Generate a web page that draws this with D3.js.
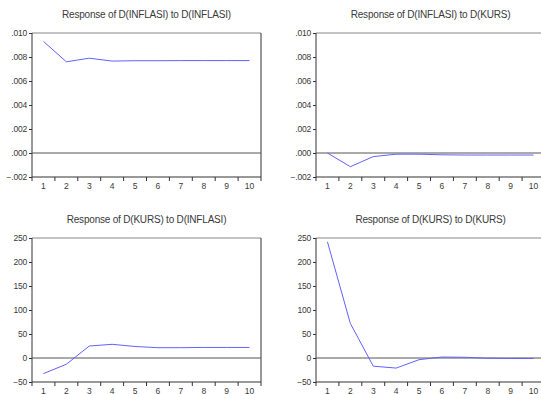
<!DOCTYPE html>
<html>
<head>
<meta charset="utf-8">
<script src="https://cdn.jsdelivr.net/npm/d3@7"></script>
<style>
  body { margin: 0; background: #fff; }
  svg { display: block; }
  text { font-family: "Liberation Sans", Arial, sans-serif; fill: #3a3a3a; }
</style>
</head>
<body>
<svg id="chart" width="541" height="394"></svg>
<script>
// periods on the x axis
const periods = [1, 2, 3, 4, 5, 6, 7, 8, 9, 10];

// impulse responses
const inflasiToInflasi = [0.0093, 0.0076, 0.0079, 0.00766, 0.00769, 0.00769, 0.0077, 0.0077, 0.0077, 0.0077];
const inflasiToKurs = [0.0, -0.00114, -0.0003, -0.0001, -0.0001, -0.00015, -0.00017, -0.00017, -0.00017, -0.00017];
const kursToInflasi = [-32.5, -13, 25, 28.5, 24, 21.5, 21.5, 22, 22, 22];
const kursToKurs = [242, 72, -17, -21, -3.5, 2, 1.5, -0.5, -1, -1];

const titles = [
  "Response of D(INFLASI) to D(INFLASI)",
  "Response of D(INFLASI) to D(KURS)",
  "Response of D(KURS) to D(INFLASI)",
  "Response of D(KURS) to D(KURS)"
];
const inflTicks = [-0.002, 0, 0.002, 0.004, 0.006, 0.008, 0.010];
const kursTicks = [-50, 0, 50, 100, 150, 200, 250];

const inflFmt = d => d3.format(".3f")(d).replace("0.", ".");
const panels = [
  {title: titles[0], values: inflasiToInflasi, ticks: inflTicks, fmt: inflFmt, x: 32, y: 33},
  {title: titles[1], values: inflasiToKurs, ticks: inflTicks, fmt: inflFmt, x: 316, y: 33},
  {title: titles[2], values: kursToInflasi, ticks: kursTicks, fmt: d3.format("d"), x: 32, y: 238},
  {title: titles[3], values: kursToKurs, ticks: kursTicks, fmt: d3.format("d"), x: 316, y: 238}
];

const w = 229, h = 144;
const svg = d3.select("#chart");

panels.forEach(function(p) {
  let g = svg.append("g").attr("transform", `translate(${p.x},${p.y})`);

  let scaleX = d3.scaleBand().domain(periods).range([0, w]);
  let scaleY = d3.scaleLinear()
    .domain([d3.min(p.ticks), d3.max(p.ticks)])
    .range([h, 0]);

  // title
  g.append("text")
    .attr("x", w / 2).attr("y", -15)
    .attr("text-anchor", "middle")
    .style("font-size", "10px")
    .style("letter-spacing", "-0.2px")
    .text(p.title);

  // y axis
  let axisY = d3.axisLeft(scaleY).tickValues(p.ticks).tickFormat(p.fmt).tickSize(3).tickPadding(2);
  let gy = g.append("g").call(axisY);
  gy.select(".domain").remove();
  gy.selectAll("line").attr("stroke", "#333");
  gy.selectAll("text").style("font-size", "8.5px").style("fill", "#3a3a3a").style("letter-spacing", "-0.2px");

  // x axis: ticks between the periods, labels in the middle
  let gx = g.append("g").attr("transform", `translate(0,${h})`);
  gx.selectAll("line")
    .data(periods.slice(0, -1))
    .enter().append("line")
    .attr("x1", d => scaleX(d) + scaleX.bandwidth())
    .attr("x2", d => scaleX(d) + scaleX.bandwidth())
    .attr("y1", 0).attr("y2", 4)
    .attr("stroke", "#333");
  gx.selectAll("text")
    .data(periods)
    .enter().append("text")
    .attr("x", d => scaleX(d) + scaleX.bandwidth() / 2)
    .attr("y", 11.5)
    .attr("text-anchor", "middle")
    .style("font-size", "8.5px")
    .text(d => d);

  // frame
  g.append("line").attr("x1", 0).attr("x2", w).attr("y1", 0).attr("y2", 0).attr("stroke", "#888");
  g.append("line").attr("x1", 0).attr("x2", w).attr("y1", h).attr("y2", h).attr("stroke", "#333");
  g.append("line").attr("x1", 0).attr("x2", 0).attr("y1", 0).attr("y2", h + 4).attr("stroke", "#333");
  g.append("line").attr("x1", w).attr("x2", w).attr("y1", 0).attr("y2", h + 4).attr("stroke", "#333");

  // zero line
  g.append("line")
    .attr("x1", 0).attr("x2", w)
    .attr("y1", scaleY(0)).attr("y2", scaleY(0))
    .attr("stroke", "#555");

  // response line
  let line = d3.line()
    .x((d, i) => scaleX(periods[i]) + scaleX.bandwidth() / 2)
    .y(d => scaleY(d));
  g.append("path")
    .datum(p.values)
    .attr("d", line)
    .attr("fill", "none")
    .attr("stroke", "#6262ff")
    .attr("stroke-width", 1);
});
</script>
</body>
</html>
